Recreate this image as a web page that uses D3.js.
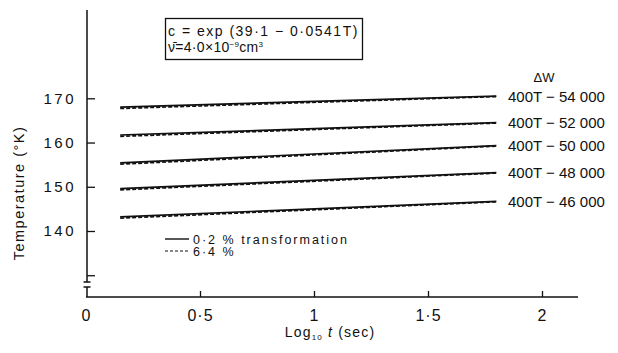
<!DOCTYPE html>
<html>
<head>
<meta charset="utf-8">
<script src="https://cdn.jsdelivr.net/npm/d3@7"></script>
<style>
  html, body { margin: 0; padding: 0; background: #fff; }
  svg { display: block; }
  text { font-family: "Liberation Sans", "DejaVu Sans", sans-serif; fill: #111; }
</style>
</head>
<body>
<svg id="chart" width="618" height="353"></svg>
<script>
// Temperature vs log time for five activation-energy curves (ΔW)
const logT = [0.15, 1.8];
const seriesLabels = ["400T − 54 000", "400T − 52 000", "400T − 50 000", "400T − 48 000", "400T − 46 000"];
// 0·2 % transformation (solid)
const solidStart = [168.0, 161.7, 155.4, 149.6, 143.2];
const solidEnd   = [170.5, 164.5, 159.3, 153.2, 146.7];
// 6·4 % transformation (dashed)
const dashStart  = [167.7, 161.4, 155.1, 149.3, 142.9];
const dashEnd    = [170.4, 164.4, 159.2, 153.1, 146.6];
const xTicks = [0, 0.5, 1, 1.5, 2];
const xTickLabels = ["0", "0·5", "1", "1·5", "2"];
const yTicks = [130, 140, 150, 160, 170];
const yTickLabels = ["", "140", "150", "160", "170"];

const svg = d3.select("#chart");
const x = d3.scaleLinear().domain([0, 2]).range([86, 542]);
const y = d3.scaleLinear().domain([140, 170]).range([231, 98.3]);
const ink = "#111";

// x axis: ticks point up into the plot
const xAxis = d3.axisBottom(x)
  .tickValues(xTicks)
  .tickSizeInner(-6).tickSizeOuter(0)
  .tickPadding(13)
  .tickFormat((d, i) => xTickLabels[i]);
const gx = svg.append("g").attr("transform", "translate(0,297)").call(xAxis);
gx.select(".domain").remove();
gx.selectAll(".tick line").attr("stroke", ink).attr("stroke-width", 1.3);
gx.selectAll(".tick").filter(d => d === 0).select("line").remove();
gx.selectAll(".tick text").attr("font-size", 16).attr("letter-spacing", 1).attr("fill", ink);
svg.append("line").attr("x1", 86).attr("x2", 578).attr("y1", 297).attr("y2", 297)
  .attr("stroke", ink).attr("stroke-width", 1.6);

// y axis: ticks point right into the plot
const yAxis = d3.axisLeft(y)
  .tickValues(yTicks)
  .tickSizeInner(-8).tickSizeOuter(0)
  .tickPadding(11)
  .tickFormat((d, i) => yTickLabels[i]);
const gy = svg.append("g").attr("transform", "translate(87,0)").call(yAxis);
gy.select(".domain").remove();
gy.selectAll(".tick line").attr("stroke", ink).attr("stroke-width", 1.3);
gy.selectAll(".tick text").attr("font-size", 15).attr("letter-spacing", 2.5).attr("fill", ink);

// y axis line with a break near the bottom
svg.append("path")
  .attr("d", "M87,10 V282 M83.5,282 H90.5 M83.5,287 H90.5 M87,287 V297")
  .attr("fill", "none").attr("stroke", ink).attr("stroke-width", 1.5);

// curves
const line = d3.line().x(d => x(d[0])).y(d => y(d[1]));
seriesLabels.forEach((lab, i) => {
  svg.append("path")
    .attr("d", line([[logT[0], dashStart[i]], [logT[1], dashEnd[i]]]))
    .attr("fill", "none").attr("stroke", ink).attr("stroke-width", 1.7)
    .attr("stroke-dasharray", "4,2");
  svg.append("path")
    .attr("d", line([[logT[0], solidStart[i]], [logT[1], solidEnd[i]]]))
    .attr("fill", "none").attr("stroke", ink).attr("stroke-width", 1.7);
  svg.append("text")
    .attr("x", 508).attr("y", y(solidEnd[i]) + 5.5)
    .attr("font-size", 15)
    .text(lab);
});
svg.append("text").attr("x", 544).attr("y", 82).attr("font-size", 13)
  .attr("text-anchor", "middle").text("ΔW");

// legend
svg.append("line").attr("x1", 165).attr("x2", 189).attr("y1", 239).attr("y2", 239)
  .attr("stroke", ink).attr("stroke-width", 1.4);
svg.append("line").attr("x1", 165).attr("x2", 189).attr("y1", 251).attr("y2", 251)
  .attr("stroke", ink).attr("stroke-width", 1.2).attr("stroke-dasharray", "3,2");
svg.append("text").attr("x", 193).attr("y", 243.5).attr("font-size", 12.5)
  .attr("letter-spacing", 2).text("0·2 % transformation");
svg.append("text").attr("x", 193).attr("y", 256).attr("font-size", 12.5)
  .attr("letter-spacing", 2).text("6·4 %");

// equation box
svg.append("rect").attr("x", 165.5).attr("y", 18.5).attr("width", 197).attr("height", 41)
  .attr("fill", "none").attr("stroke", ink).attr("stroke-width", 1.3);
svg.append("text").attr("x", 168).attr("y", 36).attr("font-size", 14)
  .attr("letter-spacing", 1.5)
  .text("c = exp (39·1 − 0·0541T)");
const t2 = svg.append("text").attr("x", 168).attr("y", 52).attr("font-size", 14)
  .attr("letter-spacing", 0.3);
t2.append("tspan").text("ν\u0304=4·0×10");
t2.append("tspan").attr("font-size", 8).attr("dy", -5).text("−9");
t2.append("tspan").attr("dy", 5).text("cm");
t2.append("tspan").attr("font-size", 8).attr("dy", -5).text("3");

// axis titles
const xt = svg.append("text").attr("x", 330).attr("y", 337).attr("font-size", 14)
  .attr("letter-spacing", 1.2).attr("text-anchor", "middle");
xt.append("tspan").text("Log");
xt.append("tspan").attr("font-size", 8).attr("dy", 3).text("10");
xt.append("tspan").attr("dy", -3).attr("font-style", "italic").text(" t");
xt.append("tspan").text("  (sec)");

svg.append("text")
  .attr("transform", "translate(24,193) rotate(-90)")
  .attr("text-anchor", "middle").attr("font-size", 14.5)
  .attr("letter-spacing", 1.5)
  .text("Temperature  (°K)");
</script>
</body>
</html>
